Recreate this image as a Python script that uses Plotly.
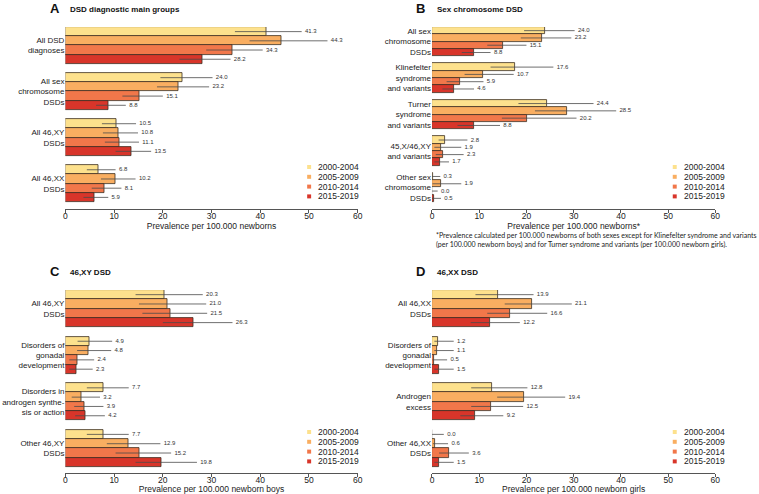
import plotly.graph_objects as go

W, H = 759, 494

PERIODS = ["2000-2004", "2005-2009", "2010-2014", "2015-2019"]
COLORS = ["#FDE18D", "#F9AE61", "#F1774A", "#D8352A"]

# ---- Panel A ----
A_GROUPS = ["All DSD<br>diagnoses", "All sex<br>chromosome<br>DSDs", "All 46,XY<br>DSDs", "All 46,XX<br>DSDs"]
A_VAL = [[41.3, 44.3, 34.3, 28.2], [24.0, 23.2, 15.1, 8.8], [10.5, 10.8, 11.1, 13.5], [6.8, 10.2, 8.1, 5.9]]
A_LO = [[34.8, 37.8, 28.9, 23.4], [19.5, 18.8, 11.7, 6.3], [7.5, 7.7, 8.1, 10.3], [4.4, 7.3, 5.4, 3.7]]
A_HI = [[48.5, 53.8, 40.5, 33.9], [30.2, 29.5, 20.0, 12.4], [14.5, 14.9, 15.1, 17.6], [10.3, 14.4, 11.5, 8.8]]

# ---- Panel B ----
B_GROUPS = ["All sex<br>chromosome<br>DSDs", "Klinefelter<br>syndrome<br>and variants",
            "Turner<br>syndrome<br>and variants", "45,X/46,XY<br>and variants",
            "Other sex<br>chromosome<br>DSDs"]
B_VAL = [[24.0, 23.2, 15.1, 8.8], [17.6, 10.7, 5.9, 4.6], [24.4, 28.5, 20.2, 8.8],
         [2.8, 1.9, 2.3, 1.7], [0.3, 1.9, 0.0, 0.5]]
B_LO = [[19.5, 18.8, 11.7, 6.3], [12.4, 6.9, 3.1, 2.2], [18.3, 21.8, 14.8, 5.4],
        [1.4, 0.5, 0.8, 0.5], [0.0, 0.1, 0.0, 0.0]]
B_HI = [[30.2, 29.5, 20.0, 12.4], [25.7, 17.3, 10.9, 8.9], [34.2, 39.0, 30.6, 14.4],
        [7.5, 6.2, 6.7, 3.6], [1.75, 6.2, 1.2, 1.9]]

# ---- Panel C ----
C_GROUPS = ["All 46,XY<br>DSDs", "Disorders of<br>gonadal<br>development",
            "Disorders in<br>androgen synthe-<br>sis or action", "Other 46,XY<br>DSDs"]
C_VAL = [[20.3, 21.0, 21.5, 26.3], [4.9, 4.8, 2.4, 2.3], [7.7, 3.2, 3.9, 4.2], [7.7, 12.9, 15.2, 19.8]]
C_LO = [[14.4, 15.1, 15.8, 20.0], [2.5, 2.4, 0.8, 0.8], [4.4, 1.3, 1.8, 2.0], [4.4, 8.5, 10.3, 14.4]]
C_HI = [[28.2, 28.9, 29.1, 34.3], [9.6, 9.4, 5.9, 5.6], [13.0, 7.1, 7.8, 8.1], [13.0, 19.5, 21.7, 27.0]]

# ---- Panel D ----
D_GROUPS = ["All 46,XX<br>DSDs", "Disorders of<br>gonadal<br>development", "Androgen<br>excess",
            "Other 46,XX<br>DSDs"]
D_VAL = [[13.9, 21.1, 16.6, 12.2], [1.2, 1.1, 0.5, 1.5], [12.8, 19.4, 12.5, 9.2], [0.0, 0.6, 3.6, 1.5]]
D_LO = [[9.2, 15.4, 11.7, 8.2], [0.5, 0.5, 0.1, 0.5], [8.3, 13.8, 8.3, 6.0], [0.0, 0.2, 1.5, 0.5]]
D_HI = [[21.5, 29.6, 24.4, 18.6], [4.6, 4.6, 3.2, 4.6], [20.2, 28.2, 19.3, 15.1], [2.5, 3.4, 7.8, 4.6]]

X_TICKS = [0, 10, 20, 30, 40, 50, 60]

FONT = "Arial, Liberation Sans, sans-serif"

PANELS = [
    dict(letter="A", title="DSD diagnostic main groups", groups=A_GROUPS, val=A_VAL, lo=A_LO, hi=A_HI,
         xtitle="Prevalence per 100.000 newborns", box=(64, 359, 27, 202, 209), leg=(310, 167)),
    dict(letter="B", title="Sex chromosome DSD", groups=B_GROUPS, val=B_VAL, lo=B_LO, hi=B_HI,
         xtitle="Prevalence per 100.000 newborns*", box=(434, 720, 27, 202, 209), leg=(679, 167)),
    dict(letter="C", title="46,XY DSD", groups=C_GROUPS, val=C_VAL, lo=C_LO, hi=C_HI,
         xtitle="Prevalence per 100.000 newborn boys", box=(64, 359, 290, 467, 473), leg=(310, 432)),
    dict(letter="D", title="46,XX DSD", groups=D_GROUPS, val=D_VAL, lo=D_LO, hi=D_HI,
         xtitle="Prevalence per 100.000 newborn girls", box=(434, 720, 290, 467, 473), leg=(679, 432)),
]

fig = go.Figure()
annotations = []
shapes = []

def px(x):
    return x / W

def py(y):
    return 1 - y / H

for i, p in enumerate(PANELS):
    n = len(p["groups"])
    xa = "x" if i == 0 else f"x{i+1}"
    ya = "y" if i == 0 else f"y{i+1}"
    xkey = "xaxis" if i == 0 else f"xaxis{i+1}"
    ykey = "yaxis" if i == 0 else f"yaxis{i+1}"
    left, right, top, bottom, axis = p["box"]
    units = 5 * n - 1
    pad = (axis - bottom) / (bottom - top) * units

    for k in range(4):
        pos = [g * 5 + k for g in range(n)]
        vals = [p["val"][g][k] for g in range(n)]
        lo = [p["lo"][g][k] for g in range(n)]
        hi = [p["hi"][g][k] for g in range(n)]
        fig.add_trace(go.Bar(
            x=vals, y=pos, orientation="h", width=1.0,
            marker=dict(color=COLORS[k], line=dict(color="#3b2f22", width=0.8)),
            error_x=dict(type="data", symmetric=False,
                         array=[h - v for h, v in zip(hi, vals)],
                         arrayminus=[v - l for v, l in zip(vals, lo)],
                         color="#4a4a4a", thickness=0.8, width=0),
            showlegend=False, xaxis=xa, yaxis=ya, hoverinfo="skip"))
        fig.add_trace(go.Scatter(
            x=hi, y=pos, mode="text", text=[f"\u00a0\u00a0{v:.1f}" for v in vals],
            textposition="middle right", textfont=dict(size=6, color="#333333", family=FONT),
            showlegend=False, xaxis=xa, yaxis=ya, cliponaxis=False, hoverinfo="skip"))

    fig.update_layout(**{
        xkey: dict(domain=[px(left), px(right)], range=[0, 60], anchor=ya,
                   tickvals=X_TICKS, showline=True, linecolor="#555555", linewidth=0.8,
                   ticks="outside", ticklen=3, tickcolor="#555555", showgrid=False, zeroline=False,
                   ticklabelstandoff=-4,
                   tickfont=dict(size=8.5, family=FONT, color="#222222"),
                   title=dict(text=p["xtitle"], font=dict(size=8.5, family=FONT, color="#222222"), standoff=0)),
        ykey: dict(domain=[py(axis), py(top)], range=[units - 0.5 + pad, -0.5], anchor=xa,
                   tickvals=[g * 5 + 1.5 for g in range(n)], ticktext=p["groups"],
                   showline=False, showgrid=False, zeroline=False, ticks="",
                   tickfont=dict(size=8, family=FONT, color="#222222")),
    })

    # panel letter + title
    annotations.append(dict(text=f"<b>{p['letter']}</b>", x=px(left - 18), y=py(top - 19),
                            xref="paper", yref="paper", xanchor="left", yanchor="middle",
                            showarrow=False, font=dict(size=13, family=FONT, color="#111111")))
    annotations.append(dict(text=f"<b>{p['title']}</b>", x=px(left + 3), y=py(top - 18),
                            xref="paper", yref="paper", xanchor="left", yanchor="middle",
                            showarrow=False, font=dict(size=8, family=FONT, color="#111111")))
    # legend
    lx, ly = p["leg"]
    for k in range(4):
        yy = ly + k * 9.8
        shapes.append(dict(type="rect", xref="paper", yref="paper",
                           x0=px(lx - 2), x1=px(lx + 2), y0=py(yy + 2), y1=py(yy - 2),
                           fillcolor=COLORS[k], line=dict(width=0)))
        annotations.append(dict(text=PERIODS[k], x=px(lx + 7), y=py(yy), xref="paper", yref="paper",
                                xanchor="left", yanchor="middle", showarrow=False,
                                font=dict(size=8.5, family=FONT, color="#222222")))

annotations.append(dict(
    text="*Prevalence calculated per 100.000 newborns of both sexes except for Klinefelter syndrome and variants<br>"
         "(per 100.000 newborn boys) and for Turner syndrome and variants (per 100.000 newborn girls).",
    x=px(436), y=py(229), xref="paper", yref="paper", xanchor="left", yanchor="top", align="left",
    showarrow=False, font=dict(size=7, family="Lato, Open Sans, sans-serif", color="#222222")))

fig.update_layout(
    width=W, height=H, margin=dict(l=0, r=0, t=0, b=0),
    paper_bgcolor="white", plot_bgcolor="white",
    barmode="overlay", bargap=0,
    annotations=annotations, shapes=shapes,
    font=dict(family=FONT),
)

fig.write_html("out.html")
